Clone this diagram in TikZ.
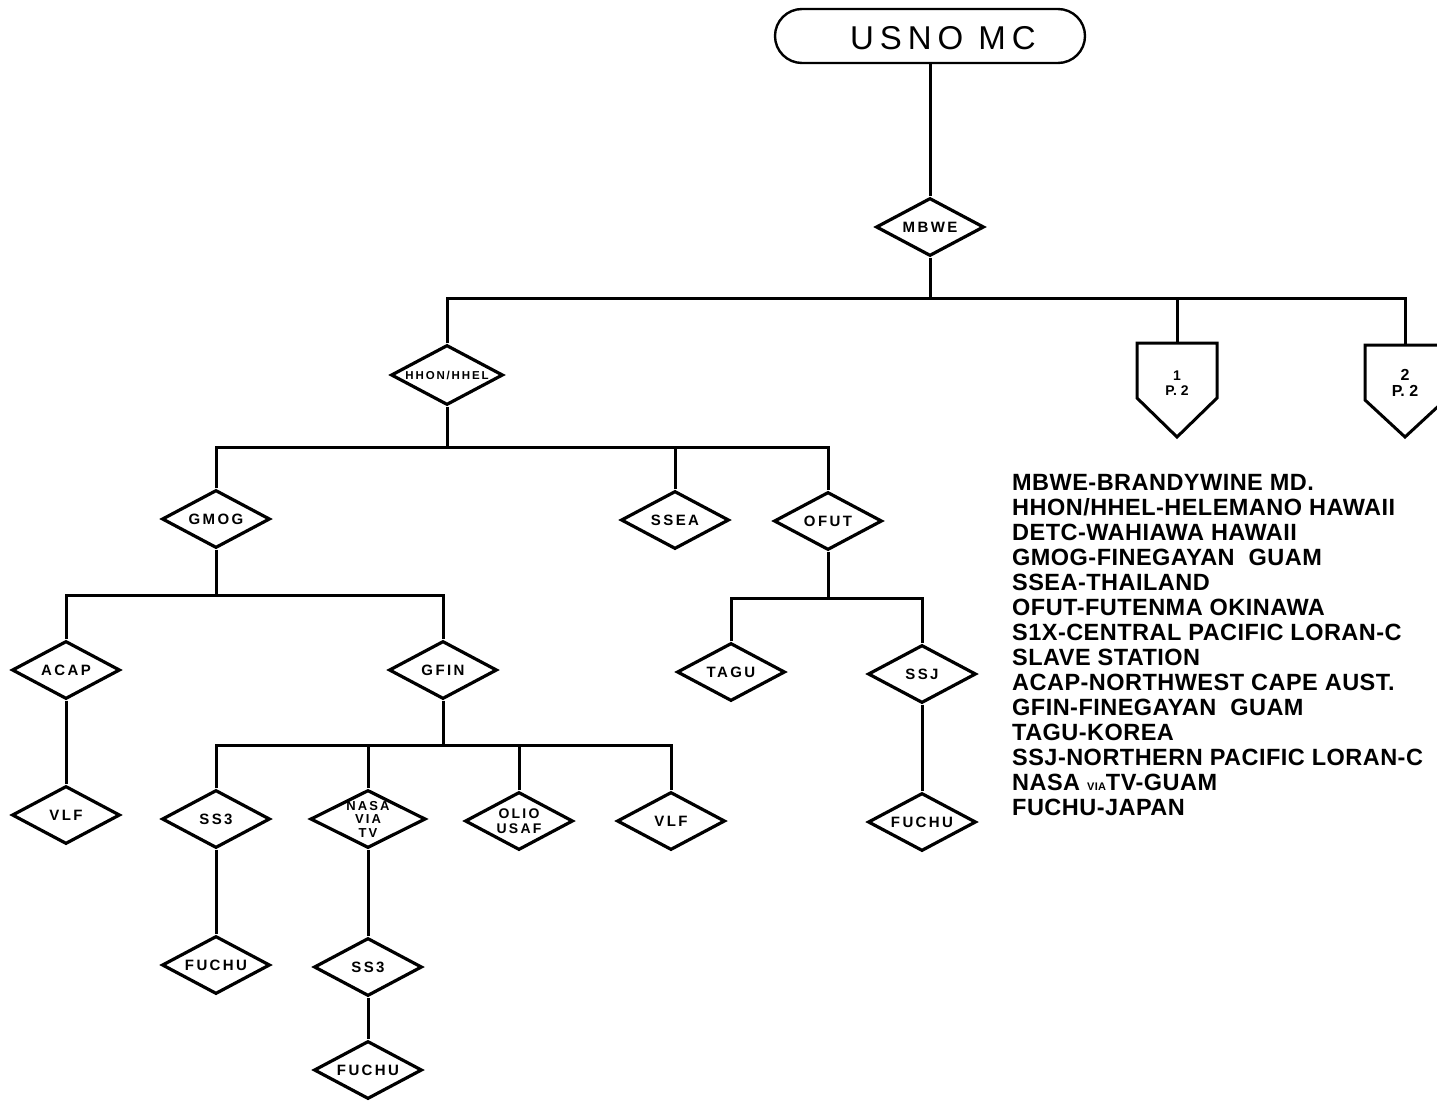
\documentclass[tikz,border=0pt]{standalone}
\usepackage{fontspec}
\setmainfont{Liberation Sans}
\newfontfamily\labf[LetterSpace=16]{Liberation Sans}
\newfontfamily\legf[LetterSpace=2]{Liberation Sans}
\newfontfamily\titf[LetterSpace=18]{Liberation Sans}
\usetikzlibrary{shapes.geometric,calc}
\begin{document}
\begin{tikzpicture}[x=1pt,y=-1pt,
  link/.style={line width=3pt},
  dia/.style={diamond, draw, line width=3.2pt, minimum width=108pt, minimum height=58pt,
    inner sep=0pt, aspect=2, font=\labf\bfseries\fontsize{15}{15}\selectfont, align=center},
  pent/.style={line width=3pt, line join=miter},
]
\useasboundingbox[fill=white] (0,0) rectangle (1437,1102);
% title
\node[draw, line width=2.4pt, rounded corners=27pt, minimum width=310pt, minimum height=54pt] (usno) at (930,36) {};
\node[font=\titf\fontsize{33}{33}\selectfont] (usnot) at (943,38) {USNO MC};
% level 1
\node[dia] (mbwe) at (930,227) {MBWE};
\draw[link] (usno.south) -- (mbwe.north);
\coordinate (busA) at (0,298);
\node[dia, minimum width=112pt, minimum height=60pt, font=\labf\bfseries\fontsize{11.5}{11.5}\selectfont] (hhon) at (447,375) {HHON/HHEL};
% off-page connectors
\coordinate (p1top) at (1177,343);
\coordinate (p2top) at (1405,345);
\draw[pent] ($(p1top)+(-40,0)$) -- ($(p1top)+(40,0)$) -- ($(p1top)+(40,55)$) -- ($(p1top)+(0,94)$) -- ($(p1top)+(-40,55)$) -- cycle;
\draw[pent] ($(p2top)+(-40,0)$) -- ($(p2top)+(40,0)$) -- ($(p2top)+(40,55)$) -- ($(p2top)+(0,92)$) -- ($(p2top)+(-40,55)$) -- cycle;
\node[align=center, font=\bfseries\fontsize{14}{15}\selectfont] (p1) at (1177,383) {1\\P. 2};
\node[align=center, font=\bfseries\fontsize{16}{16}\selectfont] (p2) at (1405,383) {2\\P. 2};
\draw[link] (mbwe.south) -- (mbwe.south |- busA);
\draw[link] (hhon.north) -- (hhon.north |- busA) -- (p2top |- busA) -- (p2top);
\draw[link] (p1top) -- (p1top |- busA);
% level 2
\coordinate (busB) at (0,447);
\node[dia] (gmog) at (216,519) {GMOG};
\node[dia] (ssea) at (675,520) {SSEA};
\node[dia] (ofut) at (828,521) {OFUT};
\draw[link] (hhon.south) -- (hhon.south |- busB);
\draw[link] (gmog.north) -- (gmog.north |- busB) -- (ofut.north |- busB) -- (ofut.north);
\draw[link] (ssea.north) -- (ssea.north |- busB);
% GMOG children
\coordinate (busC) at (0,595);
\node[dia] (acap) at (66,670) {ACAP};
\node[dia] (gfin) at (443,670) {GFIN};
\draw[link] (gmog.south) -- (gmog.south |- busC);
\draw[link] (acap.north) -- (acap.north |- busC) -- (gfin.north |- busC) -- (gfin.north);
\node[dia] (vlfa) at (66,815) {VLF};
\draw[link] (acap.south) -- (vlfa.north);
% GFIN children
\coordinate (busD) at (0,745);
\node[dia] (ss3) at (216,819) {SS3};
\node[dia, font=\labf\bfseries\fontsize{13}{13.5}\selectfont] (nasa) at (368,819) {NASA\\VIA\\TV};
\node[dia, font=\labf\bfseries\fontsize{14}{15}\selectfont] (olio) at (519,821) {OLIO\\USAF};
\node[dia] (vlfb) at (671,821) {VLF};
\draw[link] (gfin.south) -- (gfin.south |- busD);
\draw[link] (ss3.north) -- (ss3.north |- busD) -- (vlfb.north |- busD) -- (vlfb.north);
\draw[link] (nasa.north) -- (nasa.north |- busD);
\draw[link] (olio.north) -- (olio.north |- busD);
\node[dia] (fuchua) at (216,965) {FUCHU};
\draw[link] (ss3.south) -- (fuchua.north);
\node[dia] (ssjb) at (368,967) {SS3};
\draw[link] (nasa.south) -- (ssjb.north);
\node[dia] (fuchub) at (368,1070) {FUCHU};
\draw[link] (ssjb.south) -- (fuchub.north);
% OFUT children
\coordinate (busE) at (0,598);
\node[dia] (tagu) at (731,672) {TAGU};
\node[dia] (ssj) at (922,674) {SSJ};
\draw[link] (ofut.south) -- (ofut.south |- busE);
\draw[link] (tagu.north) -- (tagu.north |- busE) -- (ssj.north |- busE) -- (ssj.north);
\node[dia] (fuchuc) at (922,822) {FUCHU};
\draw[link] (ssj.south) -- (fuchuc.north);
% legend
\node[anchor=north west, align=left, inner sep=0pt, font=\legf\bfseries\fontsize{23.5}{25}\selectfont] (legend) at (1012,474) {%
MBWE-BRANDYWINE MD.\\
HHON/HHEL-HELEMANO HAWAII\\
DETC-WAHIAWA HAWAII\\
GMOG-FINEGAYAN\ \ GUAM\\
SSEA-THAILAND\\
OFUT-FUTENMA OKINAWA\\
S1X-CENTRAL PACIFIC LORAN-C\\
SLAVE STATION\\
ACAP-NORTHWEST CAPE AUST.\\
GFIN-FINEGAYAN\ \ GUAM\\
TAGU-KOREA\\
SSJ-NORTHERN PACIFIC LORAN-C\\
NASA {\fontsize{11}{11}\selectfont VIA}TV-GUAM\\
FUCHU-JAPAN};
\end{tikzpicture}
\end{document}
